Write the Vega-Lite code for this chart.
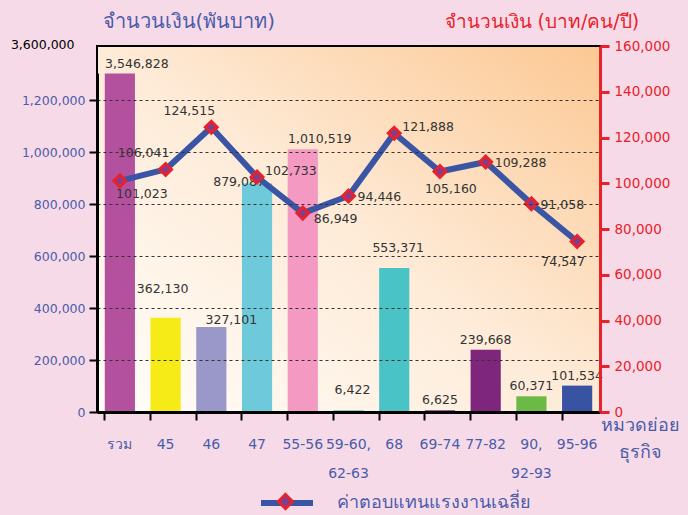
{
  "$schema": "https://vega.github.io/schema/vega-lite/v6.json",
  "width": 503,
  "height": 366,
  "autosize": {"type": "none"},
  "padding": {"left": 97, "top": 46, "right": 88, "bottom": 103},
  "background": "#F7DAE8",
  "config": {
    "font": "DejaVu Sans, sans-serif",
    "view": {
      "stroke": "black",
      "strokeWidth": 2,
      "fill": {"gradient": "linear", "x1": 0, "y1": 1, "x2": 1, "y2": 0,
        "stops": [{"offset": 0, "color": "#FFFEFA"}, {"offset": 0.5, "color": "#FEEBD8"}, {"offset": 1, "color": "#FCC893"}]}
    },
    "text": {"fontSize": 12.5, "color": "#333333", "font": "DejaVu Sans, sans-serif"}
  },
  "data": {"values": [
    {"cat": "รวม", "amount": 3546828, "wage": 101023},
    {"cat": "45", "amount": 362130, "wage": 106041},
    {"cat": "46", "amount": 327101, "wage": 124515},
    {"cat": "47", "amount": 879087, "wage": 102733},
    {"cat": "55-56", "amount": 1010519, "wage": 86949},
    {"cat": "59-60,|62-63", "amount": 6422, "wage": 94446},
    {"cat": "68", "amount": 553371, "wage": 121888},
    {"cat": "69-74", "amount": 6625, "wage": 105160},
    {"cat": "77-82", "amount": 239668, "wage": 109288},
    {"cat": "90,|92-93", "amount": 60371, "wage": 91058},
    {"cat": "95-96", "amount": 101534, "wage": 74547}
  ]},
  "encoding": {
    "x": {"field": "cat", "type": "nominal", "sort": null,
      "scale": {"paddingInner": 0.34, "paddingOuter": 0.17},
      "axis": {
        "title": ["หมวดย่อย", "ธุรกิจ"],
        "titleX": 543, "titleY": 4, "titleAlign": "center", "titleBaseline": "top",
        "titleFontSize": 18, "titleFontWeight": "normal", "titleColor": "#4A5CAA", "titleLineHeight": 27,
        "labelExpr": "split(datum.label, '|')",
        "labelAngle": 0, "labelFontSize": 14, "labelColor": "#4A5CAA", "labelLineHeight": 29,
        "labelPadding": 17, "labelBaseline": "top",
        "bandPosition": 0,
        "domainColor": "black", "domainWidth": 3, "tickColor": "black", "tickWidth": 2, "tickSize": 8,
        "zindex": 2
      }
    }
  },
  "layer": [
    {
      "encoding": {
        "y": {"field": "amount", "type": "quantitative",
          "scale": {"domain": [0, 1200000, 3600000], "range": [366, 54, 27], "nice": false, "zero": false}}
      },
      "layer": [
        {
          "mark": {"type": "bar"},
          "encoding": {
            "y": {"field": "amount", "type": "quantitative",
              "axis": {
                "orient": "left",
                "values": [0, 200000, 400000, 600000, 800000, 1000000, 1200000, 3600000],
                "format": ",d",
                "title": "จำนวนเงิน(พันบาท)",
                "titleAngle": 0, "titleX": 5, "titleY": -19, "titleAlign": "left", "titleBaseline": "alphabetic",
                "titleFontSize": 20, "titleFontWeight": "normal", "titleColor": "#4A5CAA",
                "labelFontSize": 12.5,
                "labelColor": {"condition": {"test": "datum.value > 2000000", "value": "black"}, "value": "#4A5CAA"},
                "labelOffset": {"condition": {"test": "datum.value > 2000000", "value": -29}, "value": 0},
                "labelPadding": {"condition": {"test": "datum.value > 2000000", "value": 15}, "value": 4},
                "tickOpacity": {"condition": {"test": "datum.value > 2000000", "value": 0}, "value": 1},
                "grid": true,
                "gridColor": "#333333", "gridDash": [3, 3], "gridWidth": 1,
                "gridOpacity": {"condition": {"test": "datum.value == 0 || datum.value > 2000000", "value": 0}, "value": 1},
                "domainColor": "black", "domainWidth": 3, "tickColor": "black", "tickWidth": 2, "tickSize": 8,
                "zindex": 1
              }},
            "color": {"field": "cat", "type": "nominal", "sort": null, "legend": null,
              "scale": {
                "domain": ["รวม", "45", "46", "47", "55-56", "59-60,|62-63", "68", "69-74", "77-82", "90,|92-93", "95-96"],
                "range": ["#B4519E", "#F6EB16", "#9A97C9", "#6ECADB", "#F499C2", "#4CC3C6", "#4AC3C7", "#7E2A7F", "#7E267C", "#6BBA45", "#3753A1"]}}
          }
        },
        {
          "transform": [{"filter": {"field": "cat", "oneOf": ["77-82", "90,|92-93", "95-96", "69-74"]}}],
          "mark": {"type": "text", "baseline": "bottom", "align": "center", "dy": -3},
          "encoding": {"text": {"field": "amount", "type": "quantitative", "format": ",d"}}
        },
        {
          "transform": [{"filter": {"field": "cat", "oneOf": ["59-60,|62-63", "68"]}}],
          "mark": {"type": "text", "baseline": "bottom", "align": "center", "dy": -13, "dx": 4},
          "encoding": {"text": {"field": "amount", "type": "quantitative", "format": ",d"}}
        },
        {
          "transform": [{"filter": {"field": "cat", "oneOf": ["45"]}}],
          "mark": {"type": "text", "baseline": "bottom", "align": "center", "dy": -22, "dx": -3},
          "encoding": {"text": {"field": "amount", "type": "quantitative", "format": ",d"}}
        },
        {
          "transform": [{"filter": {"field": "cat", "oneOf": ["รวม", "55-56"]}}],
          "mark": {"type": "text", "baseline": "bottom", "align": "center", "dy": -3, "dx": 17},
          "encoding": {"text": {"field": "amount", "type": "quantitative", "format": ",d"}}
        },
        {
          "transform": [{"filter": {"field": "cat", "oneOf": ["46"]}}],
          "mark": {"type": "text", "baseline": "bottom", "align": "center", "dy": 0, "dx": 20},
          "encoding": {"text": {"field": "amount", "type": "quantitative", "format": ",d"}}
        },
        {
          "transform": [{"filter": {"field": "cat", "oneOf": ["47"]}}],
          "mark": {"type": "text", "baseline": "bottom", "align": "center", "dy": 6, "dx": -18},
          "encoding": {"text": {"field": "amount", "type": "quantitative", "format": ",d"}}
        }
      ]
    },
    {
      "encoding": {
        "y": {"field": "wage", "type": "quantitative",
          "scale": {"domain": [0, 160000], "nice": false}}
      },
      "layer": [
        {
          "mark": {"type": "line", "strokeWidth": 6, "strokeCap": "round", "strokeJoin": "round"},
          "encoding": {
            "y": {"field": "wage", "type": "quantitative",
              "axis": {
                "orient": "right",
                "values": [0, 20000, 40000, 60000, 80000, 100000, 120000, 140000, 160000],
                "format": ",d",
                "title": "จำนวนเงิน (บาท/คน/ปี)",
                "titleAngle": 0, "titleX": -156, "titleY": -19, "titleAlign": "left", "titleBaseline": "alphabetic",
                "titleFontSize": 19, "titleFontWeight": "normal", "titleColor": "#E8222A",
                "labelFontSize": 13.5, "labelColor": "#E8222A", "labelPadding": 5,
                "grid": false,
                "domainColor": "#E8222A", "domainWidth": 3, "tickColor": "#E8222A", "tickWidth": 3, "tickSize": 9,
                "zindex": 2
              }},
            "stroke": {"datum": "ค่าตอบแทนแรงงานเฉลี่ย", "type": "nominal",
              "scale": {"range": ["#3B55A5"]},
              "legend": {
                "orient": "none", "legendX": 161, "legendY": 428, "title": null, "padding": 0,
                "symbolType": "stroke", "symbolSize": 2704, "symbolStrokeWidth": 6, "symbolStrokeColor": "#3B55A5",
                "labelOffset": 21, "labelFontSize": 18, "labelColor": "#4A5CAA", "labelLimit": 400
              }}
          }
        },
        {
          "mark": {"type": "point", "shape": "diamond", "size": 140, "filled": true, "stroke": "#E8222A", "strokeWidth": 3, "opacity": 1},
          "encoding": {
            "fill": {"datum": "marker", "type": "nominal",
              "scale": {"range": ["#7B3F98"]},
              "legend": {
                "orient": "none", "legendX": 161, "legendY": 428, "title": null, "padding": 0,
                "symbolType": "M0,-0.27L0.27,0L0,0.27L-0.27,0Z", "symbolSize": 2704,
                "symbolStrokeWidth": 3, "symbolStrokeColor": "#E8222A", "symbolFillColor": "#7B3F98", "symbolOpacity": 1,
                "labelExpr": "''", "labelOffset": 0, "labelFontSize": 1, "labelOpacity": 0
              }}
          }
        },
        {
          "transform": [{"filter": {"field": "cat", "oneOf": ["59-60,|62-63", "77-82", "90,|92-93"]}}],
          "mark": {"type": "text", "align": "left", "baseline": "middle", "dx": 9, "dy": 1},
          "encoding": {"text": {"field": "wage", "type": "quantitative", "format": ",d"}}
        },
        {
          "transform": [{"filter": {"field": "cat", "oneOf": ["47", "68"]}}],
          "mark": {"type": "text", "align": "left", "baseline": "middle", "dx": 8, "dy": -6},
          "encoding": {"text": {"field": "wage", "type": "quantitative", "format": ",d"}}
        },
        {
          "transform": [{"filter": {"field": "cat", "oneOf": ["55-56"]}}],
          "mark": {"type": "text", "align": "left", "baseline": "middle", "dx": 11, "dy": 6},
          "encoding": {"text": {"field": "wage", "type": "quantitative", "format": ",d"}}
        },
        {
          "transform": [{"filter": {"field": "cat", "oneOf": ["45", "46"]}}],
          "mark": {"type": "text", "align": "center", "baseline": "middle", "dx": -22, "dy": -16},
          "encoding": {"text": {"field": "wage", "type": "quantitative", "format": ",d"}}
        },
        {
          "transform": [{"filter": {"field": "cat", "oneOf": ["รวม"]}}],
          "mark": {"type": "text", "align": "center", "baseline": "middle", "dx": 22, "dy": 13},
          "encoding": {"text": {"field": "wage", "type": "quantitative", "format": ",d"}}
        },
        {
          "transform": [{"filter": {"field": "cat", "oneOf": ["69-74"]}}],
          "mark": {"type": "text", "align": "center", "baseline": "middle", "dx": 11, "dy": 18},
          "encoding": {"text": {"field": "wage", "type": "quantitative", "format": ",d"}}
        },
        {
          "transform": [{"filter": {"field": "cat", "oneOf": ["95-96"]}}],
          "mark": {"type": "text", "align": "center", "baseline": "middle", "dx": -14, "dy": 21},
          "encoding": {"text": {"field": "wage", "type": "quantitative", "format": ",d"}}
        }
      ]
    }
  ],
  "resolve": {"scale": {"y": "independent"}}
}
